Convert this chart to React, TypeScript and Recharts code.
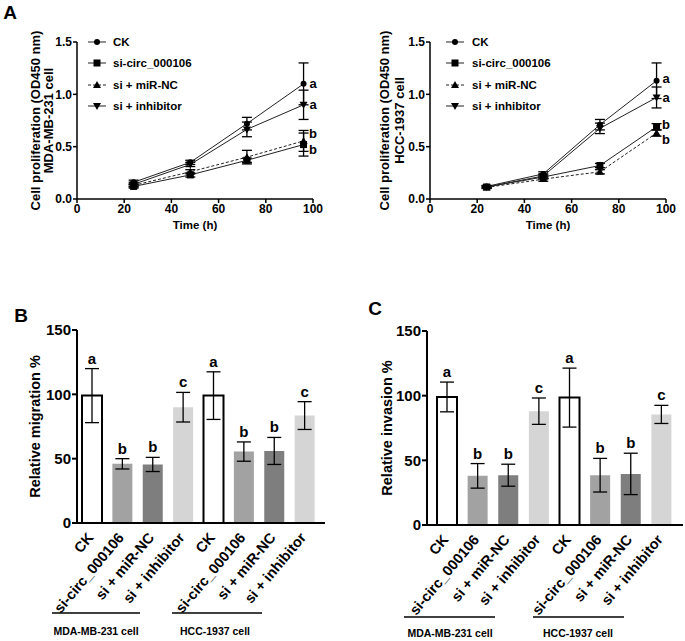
import React from 'react';
import {
  LineChart,
  Line,
  BarChart,
  Bar,
  Cell,
  XAxis,
  YAxis,
  ErrorBar,
  LabelList,
  Label,
  Legend,
  ReferenceDot,
} from 'recharts';

const FONT = '"Liberation Sans", Arial, Helvetica, sans-serif';

// ---- panel A: proliferation ----
const hours = [24, 48, 72, 96];
const seriesNames = ['CK', 'si-circ_000106', 'si + miR-NC', 'si + inhibitor'];

// MDA-MB-231
const mdaCK = [0.16, 0.35, 0.72, 1.1];
const mdaSi = [0.12, 0.23, 0.37, 0.52];
const mdaMiR = [0.13, 0.26, 0.4, 0.555];
const mdaInh = [0.14, 0.33, 0.665, 0.9];
const mdaCKErr = [0.02, 0.02, 0.06, 0.2];
const mdaSiErr = [0.015, 0.02, 0.02, 0.11];
const mdaMiRErr = [0.015, 0.02, 0.065, 0.1];
const mdaInhErr = [0.02, 0.02, 0.07, 0.14];
const mdaLetterY = [1.108, 0.907, 0.63, 0.477];

// HCC-1937
const hccCK = [0.12, 0.24, 0.71, 1.13];
const hccSi = [0.115, 0.21, 0.32, 0.69];
const hccMiR = [0.11, 0.19, 0.26, 0.63];
const hccInh = [0.115, 0.22, 0.675, 0.97];
const hccCKErr = [0.01, 0.02, 0.05, 0.17];
const hccSiErr = [0.01, 0.02, 0.02, 0.03];
const hccMiRErr = [0.01, 0.02, 0.02, 0.03];
const hccInhErr = [0.01, 0.02, 0.05, 0.1];
const hccLetterY = [1.156, 0.974, 0.716, 0.564];

const lineLetters = ['a', 'a', 'b', 'b'];
const timeTicks = [0, 20, 40, 60, 80, 100];
const odTicks = [0, 0.5, 1, 1.5];

// ---- panels B / C: migration & invasion ----
const groups = ['CK', 'si-circ_000106', 'si + miR-NC', 'si + inhibitor', 'CK', 'si-circ_000106', 'si + miR-NC', 'si + inhibitor'];
const migration = [99, 46, 45.5, 90, 99, 55.5, 56, 83.5];
const migrationErr = [21, 4, 5.5, 11.5, 18.5, 7.5, 10.5, 10.8];
const invasion = [99, 38, 38.5, 88, 98.5, 38.5, 39.5, 85.5];
const invasionErr = [11.5, 9.5, 8.5, 10.2, 22.8, 13, 16, 7];
const barLetters = ['a', 'b', 'b', 'c', 'a', 'b', 'b', 'c'];
const barFills = ['#ffffff', '#a2a2a2', '#7e7e7e', '#d5d5d5'];
const pctTicks = [0, 50, 100, 150];

const markerTypes = ['circle', 'square', 'up', 'down'];
const dashes = [undefined, undefined, '3 2', undefined];

const Marker = ({ cx, cy, type }: any) => {
  if (cx == null || cy == null) return null;
  if (type === 'circle') return <circle cx={cx} cy={cy} r={3} fill="#000" />;
  if (type === 'square') return <rect x={cx - 3.5} y={cy - 3.5} width={7} height={7} fill="#000" />;
  if (type === 'up') return <polygon points={`${cx},${cy - 4} ${cx + 4},${cy + 3} ${cx - 4},${cy + 3}`} fill="#000" />;
  return <polygon points={`${cx},${cy + 4} ${cx + 4},${cy - 3} ${cx - 4},${cy - 3}`} fill="#000" />;
};

const tickStyle = { fill: '#000', fontSize: 12, fontWeight: 700, fontFamily: FONT };

const ProlifChart = ({ left, width, yWidth, right, values, errs, letterY, line2, labelX, legendLeft, textGap }: any) => {
  const data = hours.map((h, i) => {
    const row: any = { h };
    values.forEach((v: number[], k: number) => {
      row['s' + k] = v[i];
      row['e' + k] = errs[k][i];
    });
    return row;
  });

  const legendContent = () => (
    <div style={{ fontFamily: FONT, fontWeight: 700, fontSize: 11.5, color: '#000' }}>
      {seriesNames.map((n, i) => (
        <div key={n} style={{ display: 'flex', alignItems: 'center', height: 21.3 }}>
          <svg width={18} height={10}>
            <line x1={0} y1={5} x2={18} y2={5} stroke="#222" strokeWidth={1} strokeDasharray={dashes[i]} />
            <Marker cx={9} cy={5} type={markerTypes[i]} />
          </svg>
          <span style={{ marginLeft: textGap, whiteSpace: 'nowrap' }}>{n}</span>
        </div>
      ))}
    </div>
  );

  return (
    <div style={{ position: 'absolute', left, top: 0 }}>
      <LineChart width={width} height={240} data={data} margin={{ top: 42, right, bottom: 11, left: 0 }}>
        <XAxis
          dataKey="h"
          type="number"
          domain={[0, 100]}
          ticks={timeTicks}
          height={30}
          axisLine={{ stroke: '#000', strokeWidth: 1.5 }}
          tickLine={{ stroke: '#000', strokeWidth: 1.5 }}
          tickSize={4}
          tickMargin={1}
          tick={tickStyle}
        >
          <Label
            content={({ viewBox }: any) => (
              <text x={viewBox.x + viewBox.width / 2} y={viewBox.y + 26} textAnchor="middle" dominantBaseline="central"
                fontFamily={FONT} fontWeight={700} fontSize={11.5} fill="#000">Time (h)</text>
            )}
          />
        </XAxis>
        <YAxis
          type="number"
          domain={[0, 1.5]}
          ticks={odTicks}
          width={yWidth}
          tickFormatter={(v: number) => v.toFixed(1)}
          axisLine={{ stroke: '#000', strokeWidth: 1.5 }}
          tickLine={{ stroke: '#000', strokeWidth: 1.5 }}
          tickSize={4}
          tickMargin={1}
          tick={tickStyle}
        >
          <Label
            content={({ viewBox }: any) => {
              const cy = viewBox.y + viewBox.height / 2;
              return (
                <g fontFamily={FONT} fontWeight={700} fontSize={13} fill="#000">
                  <text x={labelX[0]} y={cy} textAnchor="middle" dominantBaseline="central" transform={`rotate(-90 ${labelX[0]} ${cy})`}>
                    Cell proliferation (OD450 nm)
                  </text>
                  <text x={labelX[1]} y={cy} textAnchor="middle" dominantBaseline="central" transform={`rotate(-90 ${labelX[1]} ${cy})`}>
                    {line2}
                  </text>
                </g>
              );
            }}
          />
        </YAxis>
        {seriesNames.map((n, k) => (
          <Line
            key={n}
            dataKey={'s' + k}
            name={n}
            stroke="#222"
            strokeWidth={1}
            strokeDasharray={dashes[k]}
            isAnimationActive={false}
            dot={(p: any) => <Marker key={n + p.index} cx={p.cx} cy={p.cy} type={markerTypes[k]} />}
          >
            <ErrorBar dataKey={'e' + k} width={5} stroke="#000" strokeWidth={1.3} direction="y" />
          </Line>
        ))}
        {letterY.map((y: number, i: number) => (
          <ReferenceDot
            key={i}
            x={100}
            y={y}
            r={0}
            ifOverflow="visible"
            shape={(p: any) => (
              <text x={p.cx} y={p.cy} textAnchor="middle" dominantBaseline="central" fontFamily={FONT} fontWeight={700} fontSize={13} fill="#000">
                {lineLetters[i]}
              </text>
            )}
          />
        ))}
        <Legend
          layout="vertical"
          align="center"
          verticalAlign="middle"
          content={legendContent}
          wrapperStyle={{ left: legendLeft, top: 31.4, width: 'auto', height: 'auto', right: 'auto', bottom: 'auto' }}
        />
      </LineChart>
    </div>
  );
};

const RotTick = ({ x, y, payload }: any) => {
  const px = x + 2;
  const py = y + 15;
  return (
    <text x={px} y={py} transform={`rotate(-50 ${px} ${py})`} textAnchor="end" fontFamily={FONT} fontWeight={700} fontSize={14.5} fill="#000">
      {payload.value}
    </text>
  );
};

const PctChart = ({ left, width, yWidth, right, top, axisH, padding, values, errs, yLabel, labelX }: any) => {
  const data = groups.map((g, i) => ({ name: g, v: values[i], e: errs[i] }));
  return (
    <div style={{ position: 'absolute', left, top: 300 }}>
      <BarChart width={width} height={341} data={data} margin={{ top, right, bottom: 0, left: 0 }} barSize={20}>
        <XAxis
          dataKey="name"
          interval={0}
          height={axisH}
          padding={padding}
          axisLine={{ stroke: '#000', strokeWidth: 2 }}
          tickLine={false}
          tickSize={0}
          tickMargin={0}
          tick={<RotTick />}
        />
        <YAxis
          type="number"
          domain={[0, 150]}
          ticks={pctTicks}
          width={yWidth}
          axisLine={{ stroke: '#000', strokeWidth: 2 }}
          tickLine={{ stroke: '#000', strokeWidth: 2 }}
          tickSize={5}
          tickMargin={1}
          tick={{ fill: '#000', fontSize: 15, fontWeight: 700, fontFamily: FONT }}
        >
          <Label
            content={({ viewBox }: any) => {
              const cy = viewBox.y + viewBox.height / 2;
              return (
                <text x={labelX} y={cy} textAnchor="middle" dominantBaseline="central" transform={`rotate(-90 ${labelX} ${cy})`}
                  fontFamily={FONT} fontWeight={700} fontSize={14.5} fill="#000">
                  {yLabel}
                </text>
              );
            }}
          />
        </YAxis>
        <Bar dataKey="v" isAnimationActive={false}>
          {data.map((d, i) => (
            <Cell key={i} fill={barFills[i % 4]} stroke={i % 4 === 0 ? '#000' : 'none'} strokeWidth={i % 4 === 0 ? 2 : 0} />
          ))}
          <ErrorBar dataKey="e" width={7} stroke="#000" strokeWidth={1.3} direction="y" />
          <LabelList
            dataKey="v"
            content={(p: any) => {
              const vb = p.viewBox && p.viewBox.width != null ? p.viewBox : p;
              const h = Math.abs(vb.height);
              const topY = Math.min(vb.y, vb.y + vb.height);
              const errPx = (errs[p.index] * h) / values[p.index];
              return (
                <text x={vb.x + vb.width / 2} y={topY - errPx - 5} textAnchor="middle" fontFamily={FONT} fontWeight={700} fontSize={15} fill="#000">
                  {barLetters[p.index]}
                </text>
              );
            }}
          />
        </Bar>
      </BarChart>
    </div>
  );
};

const Overlay = () => (
  <svg width={685} height={641} style={{ position: 'absolute', left: 0, top: 0, pointerEvents: 'none' }}>
    <g fontFamily={FONT} fontWeight={700} fill="#000">
      <text x={10} y={12} fontSize={19} textAnchor="middle" dominantBaseline="central">A</text>
      <text x={21} y={315} fontSize={19} textAnchor="middle" dominantBaseline="central">B</text>
      <text x={375} y={308} fontSize={19} textAnchor="middle" dominantBaseline="central">C</text>
    </g>
    <g stroke="#000" strokeWidth={1.5}>
      <line x1={52} y1={613} x2={140} y2={613} />
      <line x1={172} y1={613} x2={262} y2={613} />
      <line x1={404} y1={617} x2={495} y2={617} />
      <line x1={533} y1={617} x2={624} y2={617} />
    </g>
    <g fontFamily={FONT} fontWeight={700} fontSize={10.5} fill="#000" textAnchor="middle" dominantBaseline="central">
      <text x={96} y={631}>MDA-MB-231 cell</text>
      <text x={215} y={631}>HCC-1937 cell</text>
      <text x={450} y={633}>MDA-MB-231 cell</text>
      <text x={578} y={633}>HCC-1937 cell</text>
    </g>
  </svg>
);

export default function App() {
  return (
    <div style={{ position: 'absolute', left: 0, top: 0, width: 685, height: 641, background: '#fff', overflow: 'hidden', fontFamily: FONT }}>
      <ProlifChart
        left={0}
        width={340}
        yWidth={77}
        right={27}
        values={[mdaCK, mdaSi, mdaMiR, mdaInh]}
        errs={[mdaCKErr, mdaSiErr, mdaMiRErr, mdaInhErr]}
        letterY={mdaLetterY}
        line2="MDA-MB-231 cell"
        labelX={[35, 48]}
        legendLeft={88}
        textGap={7}
      />
      <ProlifChart
        left={340}
        width={345}
        yWidth={90}
        right={19}
        values={[hccCK, hccSi, hccMiR, hccInh]}
        errs={[hccCKErr, hccSiErr, hccMiRErr, hccInhErr]}
        letterY={hccLetterY}
        line2="HCC-1937 cell"
        labelX={[44, 59]}
        legendLeft={106}
        textGap={8}
      />
      <PctChart
        left={0}
        width={340}
        yWidth={77}
        right={15}
        top={30}
        axisH={118}
        padding={{ left: 0, right: 5 }}
        values={migration}
        errs={migrationErr}
        yLabel="Relative migration %"
        labelX={35}
      />
      <PctChart
        left={340}
        width={345}
        yWidth={87}
        right={2}
        top={31}
        axisH={116}
        padding={{ left: 5, right: 6 }}
        values={invasion}
        errs={invasionErr}
        yLabel="Relative invasion %"
        labelX={47}
      />
      <Overlay />
    </div>
  );
}
